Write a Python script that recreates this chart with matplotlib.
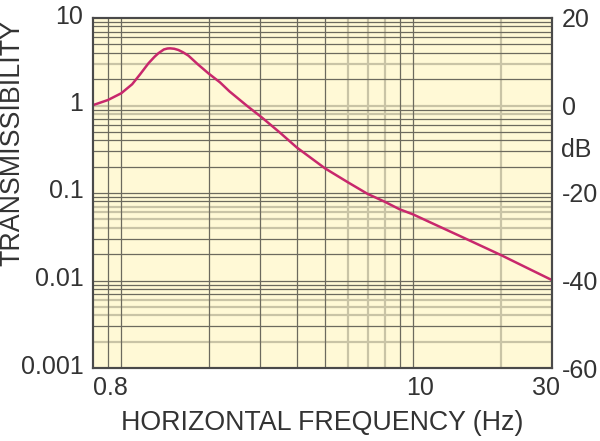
import matplotlib
matplotlib.use('Agg')
import matplotlib.pyplot as plt
from matplotlib.ticker import NullLocator, FixedLocator
from matplotlib.transforms import ScaledTranslation

plt.rcParams['font.family'] = ['Liberation Sans', 'DejaVu Sans']

# ---- data ----
freq = [0.8, 0.9, 1.0, 1.09, 1.16, 1.24, 1.30, 1.34, 1.40, 1.44, 1.47, 1.52,
        1.57, 1.63, 1.70, 1.83, 1.99, 2.18, 2.35, 2.70, 3.03, 3.5, 4.0, 5.0,
        6.0, 7.0, 8.0, 9.0, 10.0, 11.5, 15.0, 20.0, 25.0, 30.0]
trans = [1.01, 1.155, 1.38, 1.75, 2.27, 3.04, 3.6, 3.95, 4.37, 4.48, 4.5, 4.45,
         4.31, 4.05, 3.71, 2.96, 2.33, 1.84, 1.45, 0.99, 0.733, 0.49, 0.331,
         0.191, 0.132, 0.0975, 0.0796, 0.0652, 0.0571, 0.046, 0.0306, 0.0196,
         0.0136, 0.0101]

x_ticks = [0.8, 10, 30]
x_tick_labels = ['0.8', '10', '30']
y_ticks = [0.001, 0.01, 0.1, 1, 10]
y_tick_labels = ['0.001', '0.01', '0.1', '1', '10']
db_ticks = [-60, -40, -20, 0, 20]
db_tick_labels = ['-60', '-40', '-20', '0', '20']

y_grid_dark = [9, 8, 7, 6, 5, 4, 2, 0.9, 0.7, 0.6, 0.5, 0.4, 0.3, 0.2, 0.1,
               0.09, 0.08, 0.03, 0.02, 0.01, 0.009, 0.008, 0.007, 0.003]
y_grid_light = [3, 1, 0.8, 0.07, 0.06, 0.05, 0.04, 0.006, 0.005, 0.004, 0.002]
x_grid_dark = [0.9, 1, 2, 3, 4, 5, 9, 10]
x_grid_light = [6, 7, 8, 20]

# ---- styling ----
W, H = 600, 441
BG = '#FFF9D6'
DARK = '#6C6A5E'
LIGHT = '#C9C4A6'
CURVE = '#C8286C'
TXT = '#333333'
SPINE = '#4A4A4A'

fig = plt.figure(figsize=(W / 100, H / 100), dpi=100)
L, R, T, B = 93, 552, 18, 368
ax = fig.add_axes([L / W, 1 - B / H, (R - L) / W, (B - T) / H])
ax.set_xscale('log')
ax.set_yscale('log')
ax.set_xlim(0.8, 30)
ax.set_ylim(0.001, 10)
ax.set_facecolor(BG)

for v in y_grid_light:
    ax.axhline(v, color=LIGHT, lw=1.6, zorder=1)
for v in x_grid_light:
    ax.axvline(v, color=LIGHT, lw=1.6, zorder=1)
for v in y_grid_dark:
    ax.axhline(v, color=DARK, lw=0.9, zorder=1.1)
for v in x_grid_dark:
    ax.axvline(v, color=DARK, lw=0.9, zorder=1.1)

ax.plot(freq, trans, color=CURVE, lw=1.8, zorder=3, solid_capstyle='round',
        solid_joinstyle='round')

ax.xaxis.set_major_locator(FixedLocator(x_ticks))
ax.xaxis.set_minor_locator(NullLocator())
ax.set_xticklabels(x_tick_labels)
ax.yaxis.set_major_locator(FixedLocator(y_ticks))
ax.yaxis.set_minor_locator(NullLocator())
ax.set_yticklabels(y_tick_labels)
ax.tick_params(axis='both', which='both', length=0, labelsize=18,
               labelcolor=TXT)
ax.tick_params(axis='x', pad=6)
ax.tick_params(axis='y', pad=7)

for s in ax.spines.values():
    s.set_color(SPINE)
    s.set_linewidth(1.5)
    s.set_zorder(4)

ax2 = ax.twinx()
ax2.set_ylim(-60, 20)
ax2.yaxis.set_major_locator(FixedLocator(db_ticks))
ax2.set_yticklabels(db_tick_labels)
ax2.tick_params(axis='y', length=0, labelsize=18, labelcolor=TXT, pad=7)
for s in ax2.spines.values():
    s.set_color(SPINE)
    s.set_linewidth(1.5)

fig.text(561 / W, 1 - 150 / H, 'dB', fontsize=18, color=TXT,
         ha='left', va='center')

ax.set_xlabel('HORIZONTAL FREQUENCY (Hz)', fontsize=19.3, color=TXT, va='center')
ax.xaxis.set_label_coords(((L + R) / 2 - L) / (R - L), (B - 423) / (B - T))
ax.set_ylabel('TRANSMISSIBILITY', fontsize=19.3, color=TXT, va='center')
ax.yaxis.set_label_coords((12.5 - L) / (R - L), (B - 143) / (B - T))

# small label offsets as in the reference
for lbl in ax.get_yticklabels():
    lbl.set_transform(lbl.get_transform() +
                      ScaledTranslation(0, 4 / 100, fig.dpi_scale_trans))
xl = ax.get_xticklabels()
xl[0].set_ha('left')
xl[1].set_transform(xl[1].get_transform() +
                    ScaledTranslation(7 / 100, 0, fig.dpi_scale_trans))
xl[2].set_transform(xl[2].get_transform() +
                    ScaledTranslation(-6 / 100, 0, fig.dpi_scale_trans))

fig.savefig('out.png', dpi=100, facecolor='white')
